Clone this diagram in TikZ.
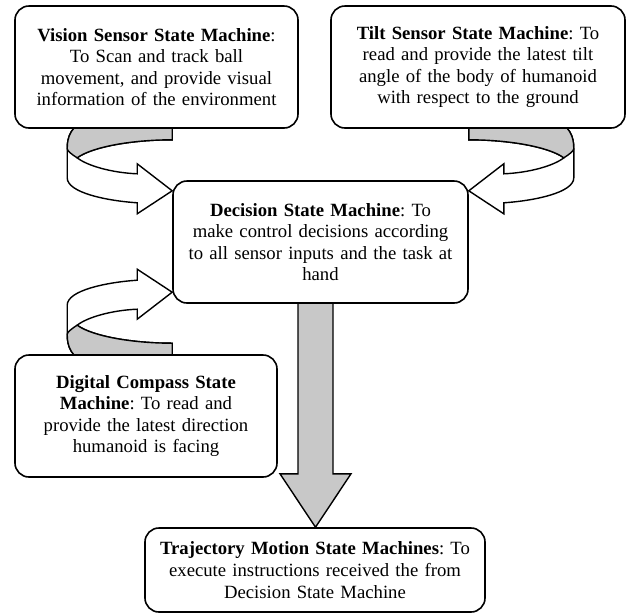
\documentclass[tikz,border=0pt]{standalone}
\usepackage{fontspec}
\setmainfont{Liberation Serif}
\usepackage{tikz}
\usetikzlibrary{calc,backgrounds}
\definecolor{bandgrey}{HTML}{C8C8C8}
\frenchspacing

\tikzset{
  smbox/.style={draw, fill=white, rounded corners=14pt, line width=1.6pt, align=center, inner sep=0pt,
    font=\fontsize{18.7}{21.6}\selectfont},
  % curled band arrow, origin at the corner where it leaves the source box
  bentarrow/.pic={
    \draw[fill=white, line width=1.4pt]
      (0,-8) -- (0,11) .. controls (-40,11) and (-80,18) .. (-95,29)
      .. controls (-85,37) and (-60,44) .. (-35,45) -- (-35,35) -- (0,62) -- (-35,85) -- (-35,74)
      .. controls (-65,72) and (-105,64) .. (-105,49) -- (-105,20)
      .. controls (-105,6) and (-100,-2) .. (-88,-8) -- cycle;
    \draw[fill=bandgrey, line width=1.4pt]
      (0,-8) -- (0,11) .. controls (-40,11) and (-80,18) .. (-95,29)
      .. controls (-100,26) and (-105,22) .. (-105,20)
      .. controls (-105,6) and (-100,-2) .. (-88,-8) -- cycle;
  }
}

\begin{document}
\begin{tikzpicture}[x=1pt, y=-1pt]
    \useasboundingbox (0,0) rectangle (627,614);
    % Nodes
    \node[smbox, minimum width=283pt, minimum height=122pt, text width=276pt] (vision) at (156.5,67)
      {\textbf{Vision Sensor State Machine}:\\ To Scan and track ball\\ movement, and provide visual\\ information of the environment};
    \node[smbox, minimum width=294pt, minimum height=122pt, text width=286pt] (tilt) at (478,67)
      {\textbf{Tilt Sensor State Machine}: To\\ read and provide the latest tilt\\ angle of the body of humanoid\\ with respect to the ground};
    \node[smbox, minimum width=295pt, minimum height=122pt, text width=288pt] (decision) at (320.5,242)
      {\textbf{Decision State Machine}: To\\ make control decisions according\\ to all sensor inputs and the task at\\ hand};
    \node[smbox, minimum width=262pt, minimum height=122pt, text width=256pt] (compass) at (146,416)
      {\textbf{Digital Compass State}\\ \textbf{Machine}: To read and\\ provide the latest direction\\ humanoid is facing};
    \node[smbox, minimum width=340pt, minimum height=84pt, text width=330pt] (traj) at (315,570)
      {\textbf{Trajectory Motion State Machines}: To\\ execute instructions received the from\\ Decision State Machine};

    % Arrows
    \begin{pgfonlayer}{background}
      \pic at (decision.west |- vision.south) {bentarrow};
      \pic[xscale=-1] at (decision.east |- tilt.south) {bentarrow};
      \pic[yscale=-1] at (decision.west |- compass.north) {bentarrow};
      \coordinate (stem) at ($(decision.south)+(-5,0)$);
      \draw[fill=bandgrey, line width=1.4pt] ($(stem)+(-17.5,-4)$) -- ($(stem)+(-17.5,170)$)
        -- ($(stem)+(-35.5,170)$) -- (stem |- traj.north) -- ($(stem)+(35.5,170)$)
        -- ($(stem)+(17.5,170)$) -- ($(stem)+(17.5,-4)$) -- cycle;
    \end{pgfonlayer}
\end{tikzpicture}
\end{document}
